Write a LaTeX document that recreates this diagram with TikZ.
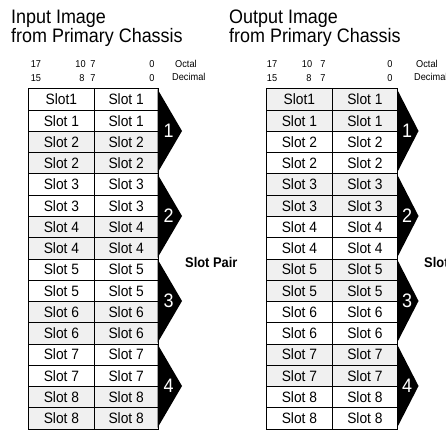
\documentclass[tikz,border=0pt]{standalone}
\usepackage{fontspec}
\setmainfont{Liberation Sans}[FakeStretch=0.92]
\definecolor{cellgray}{HTML}{F0F0F0}
\newcommand{\cellfont}{\fontsize{15}{16}\selectfont}
\newcommand{\bitfont}{\fontsize{10}{11}\selectfont}
\newcommand{\numfont}{\fontsize{19.5}{20}\selectfont}
\tikzset{
  cellbox/.style={draw=black, line width=0.8pt, inner sep=0pt, minimum height=21.25pt, anchor=north west},
  titletext/.style={anchor=base west, inner sep=0pt, font=\fontsize{19.5}{20}\selectfont},
  bittext/.style={anchor=base, inner sep=0pt},
  pairnum/.style={text=white, inner sep=0pt},
  pairlabel/.style={anchor=base west, inner sep=0pt, font=\bfseries\fontsize{14}{15}\selectfont},
  chev/.style={fill=black}
}
\begin{document}
\begin{tikzpicture}[x=1pt,y=-1pt]
\useasboundingbox (0,0) rectangle (446,430);
% titles
\node[titletext] (t1a) at (11,24) {Input Image};
\node[titletext] (t1b) at (11,43) {from Primary Chassis};
\node[titletext] (t2a) at (229,24) {Output Image};
\node[titletext] (t2b) at (229,43) {from Primary Chassis};
% bit numbers left
\node[bittext] (l17) at (36,68) {\bitfont 17};
\node[bittext] (l10) at (80.5,68) {\bitfont 10};
\node[bittext] (l7a) at (93,68) {\bitfont 7};
\node[bittext] (l0a) at (152,68) {\bitfont 0};
\node[bittext] (l15) at (36,82) {\bitfont 15};
\node[bittext] (l8) at (82,82) {\bitfont 8};
\node[bittext] (l7b) at (93,82) {\bitfont 7};
\node[bittext] (l0b) at (152,82) {\bitfont 0};
\node[bittext, anchor=base west] (loct) at (175,68) {\bitfont Octal};
\node[bittext, anchor=base west] (ldec) at (172,81) {\bitfont Decimal};
% bit numbers right
\node[bittext] (r17) at (272,68) {\bitfont 17};
\node[bittext] (r10) at (307,68) {\bitfont 10};
\node[bittext] (r7a) at (323,68) {\bitfont 7};
\node[bittext] (r0a) at (390,68) {\bitfont 0};
\node[bittext] (r15) at (272,82) {\bitfont 15};
\node[bittext] (r8) at (309,82) {\bitfont 8};
\node[bittext] (r7b) at (323,82) {\bitfont 7};
\node[bittext] (r0b) at (390,82) {\bitfont 0};
\node[bittext, anchor=base west] (roct) at (416,68) {\bitfont Octal};
\node[bittext, anchor=base west] (rdec) at (414,81) {\bitfont Decimal};
% tables
\foreach \rr in {0,...,15}{
  \pgfmathtruncatemacro\slotn{int(\rr/2)+1}
  \pgfmathtruncatemacro\parn{mod(\slotn,2)}
  \pgfmathsetmacro\yy{88.5+21.25*\rr}
  \ifnum\parn=0 \def\lfill{cellgray}\def\rfill{white}\else \def\lfill{white}\def\rfill{cellgray}\fi
  \node[cellbox, fill=\lfill, minimum width=66pt] (L\rr a) at (28,\yy) {\cellfont\ifnum\rr=0 Slot1\else Slot \slotn\fi};
  \node[cellbox, fill=\lfill, minimum width=63.5pt] (L\rr b) at (94,\yy) {\cellfont Slot \slotn};
  \node[cellbox, fill=\rfill, minimum width=66pt] (R\rr a) at (266,\yy) {\cellfont\ifnum\rr=0 Slot1\else Slot \slotn\fi};
  \node[cellbox, fill=\rfill, minimum width=65pt] (R\rr b) at (332,\yy) {\cellfont Slot \slotn};
}
% chevrons
\foreach \kk in {1,...,4}{
  \pgfmathsetmacro\tp{88.5+85*(\kk-1)}
  \pgfmathsetmacro\md{\tp+42.5}
  \pgfmathsetmacro\bt{\tp+85}
  \fill[chev] (157.5,\tp+0.6) -- (182,\md) -- (157.5,\bt-0.6) -- cycle;
  \node[pairnum] (Lc\kk) at (168.5,\md) {\numfont\kk};
  \fill[chev] (397,\tp+0.6) -- (418.5,\md) -- (397,\bt-0.6) -- cycle;
  \node[pairnum] (Rc\kk) at (407,\md) {\numfont\kk};
}
\node[pairlabel] (lpair) at (185,267) {Slot Pair};
\node[pairlabel] (rpair) at (424,267) {Slot Pair};
\end{tikzpicture}
\end{document}
